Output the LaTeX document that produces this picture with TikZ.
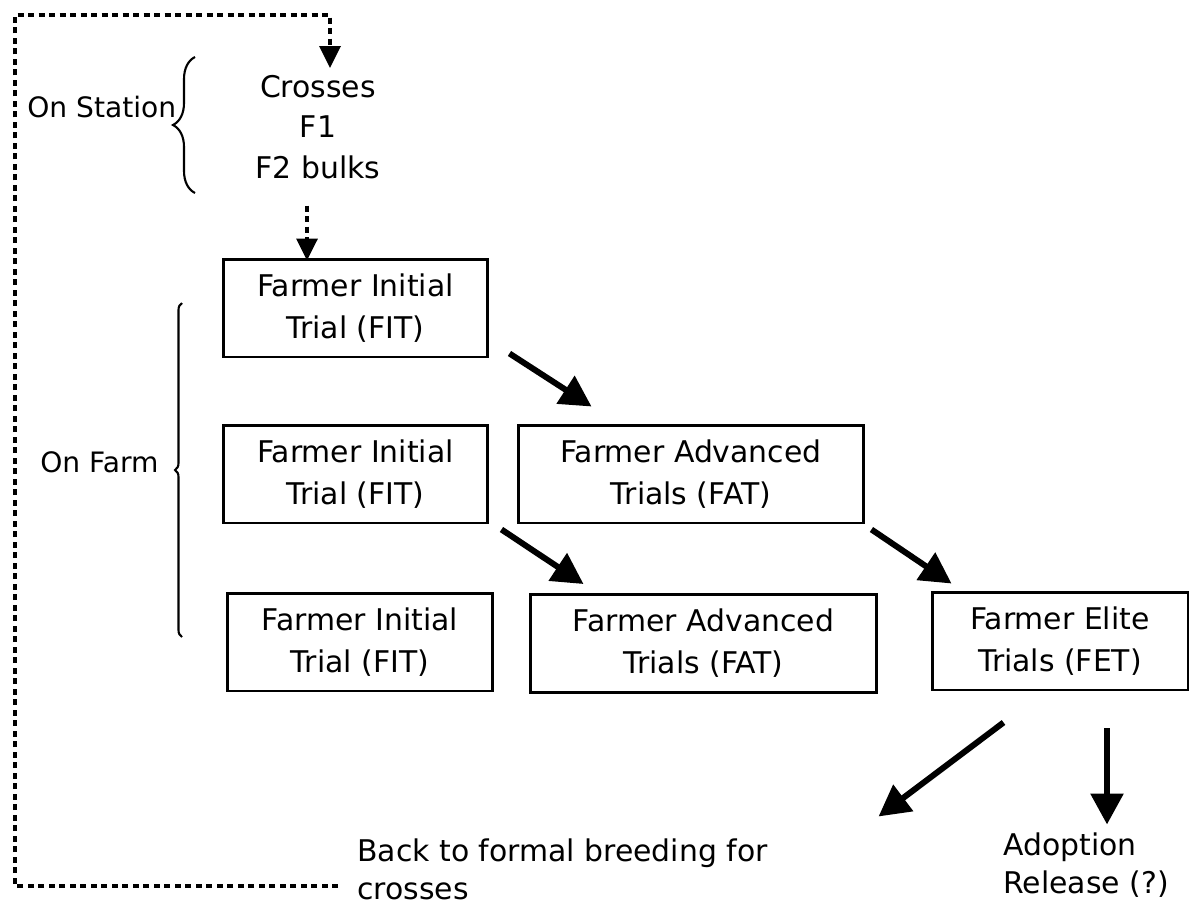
\documentclass[tikz,border=0pt]{standalone}
\usepackage{fontspec}
\setmainfont{DejaVu Sans}
\usetikzlibrary{arrows.meta,decorations.pathreplacing}

\begin{document}
\begin{tikzpicture}[
    x=0.02cm, y=-0.02cm,
    trial/.style={draw,line width=1.7pt,minimum height=1.96cm,align=center,
                  inner sep=0pt,font=\fontsize{17}{24}\selectfont},
    lbl/.style={inner sep=0pt,font=\fontsize{16}{20}\selectfont},
    txt/.style={inner sep=0pt,font=\fontsize{17}{22}\selectfont},
    arr/.style={-{Triangle[length=0.62cm,width=0.64cm]},line width=3.4pt},
    dotarr/.style={-{Triangle[length=0.44cm,width=0.42cm]},line width=2pt,
                   dash pattern=on 0.12cm off 0.09cm},
    brc/.style={decorate,line width=1.2pt}
  ]
    \useasboundingbox (0,0) rectangle (1189,909);

    \node[txt,align=center,anchor=north,font=\fontsize{17}{23}\selectfont] (crosses) at (318,75) {Crosses\\F1\\F2 bulks};
    \node[lbl,anchor=west] (station) at (27,107) {On Station};
    \node[lbl,anchor=west] (farm)    at (40,462) {On Farm};

    \node[trial,minimum width=5.3cm]  (fitA) at (355.5,308) {Farmer Initial\\Trial (FIT)};
    \node[trial,minimum width=5.3cm]  (fitB) at (355.5,474) {Farmer Initial\\Trial (FIT)};
    \node[trial,minimum width=5.32cm] (fitC) at (360,642)   {Farmer Initial\\Trial (FIT)};
    \node[trial,minimum width=6.92cm] (fatA) at (691,474)   {Farmer Advanced\\Trials (FAT)};
    \node[trial,minimum width=6.94cm] (fatB) at (703.5,643.5) {Farmer Advanced\\Trials (FAT)};
    \node[trial,minimum width=5.12cm] (fet)  at (1060,641)  {Farmer Elite\\Trials (FET)};

    \node[txt,align=left,anchor=north west] (back)  at (357,838)  {Back to formal breeding for\\crosses};
    \node[txt,align=left,anchor=north west] (adopt) at (1003,832) {Adoption\\Release (?)};

    \coordinate (stTop) at (195,57);
    \coordinate (stBot) at (195,193);
    \coordinate (fmTop) at (182,303);
    \coordinate (fmBot) at (182,637);
    \draw[brc,decoration={brace,amplitude=0.44cm}] (stBot) -- (stTop);
    \draw[brc,decoration={brace,amplitude=0.14cm}] (fmBot) -- (fmTop);

    \coordinate (loopEnd)    at (338,886);
    \coordinate (loopCorner) at (15,15);
    \coordinate (loopTip)    at (330,68);
    \draw[dotarr] (loopEnd) -| (loopCorner) -| (loopTip);
    \draw[dotarr] ([shift={(-48.5,-52)}]fitA.north) -- ([shift={(-48.5,3)}]fitA.north);

    \draw[arr] ([shift={(20,-5)}]fitA.south east) -- ([shift={(75,-17)}]fatA.north west);
    \draw[arr] ([shift={(12,5)}]fitB.south east)  -- ([shift={(55,-9)}]fatB.north west);
    \draw[arr] ([shift={(6,5)}]fatA.south east)   -- ([shift={(21,-7)}]fet.north west);
    \draw[arr] ([shift={(73,31)}]fet.south west)  -- ([shift={(-52,125)}]fet.south west);
    \draw[arr] ([shift={(47,37)}]fet.south)       -- ([shift={(47,133)}]fet.south);
  \end{tikzpicture}
\end{document}
